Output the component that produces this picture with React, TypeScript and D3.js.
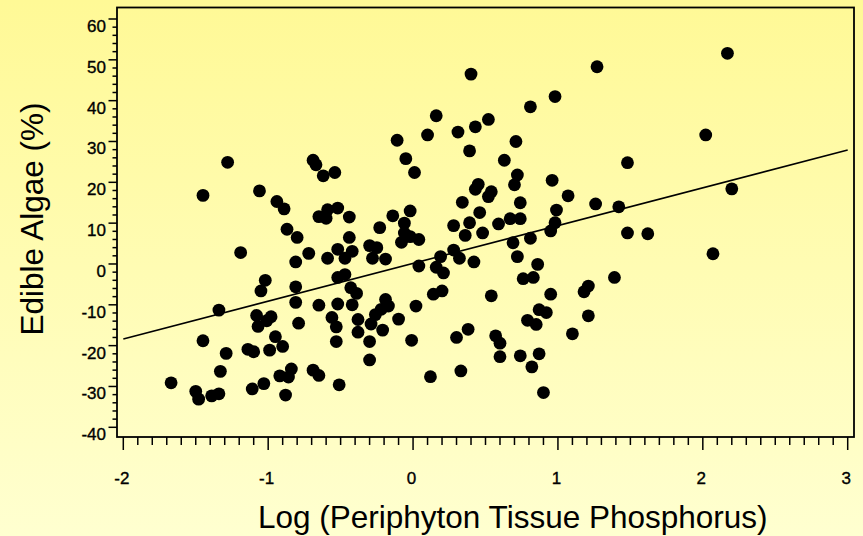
import React from 'react';
import * as d3 from 'd3';

const W = 863;
const H = 536;

// Log (periphyton tissue phosphorus) values
const logPhosphorus = [
  -1.67, -1.50, -1.48, -1.39, -1.34, -1.33, -1.29, -1.45, -1.34, -1.19,
  -1.45, -1.28, -1.06, -0.94, -0.89, -0.87, -0.80, -0.81, -1.02, -1.05,
  -0.81, -0.81, -1.08, -1.07, -0.98, -1.01, -0.79, -0.95, -0.90, -1.14,
  -1.10, -0.99, -0.84, -0.86, -0.92, -1.11, -1.03, -0.88, -0.69, -0.67,
  -0.62, -0.54, -0.65, -0.60, -0.59, -0.52, -0.44, -0.44, -0.23, -0.14,
  -0.72, -0.59, -0.52, -0.47, -0.42, -0.30, -0.25, -0.28, -0.19, -0.52,
  -0.47, -0.43, -0.39, -0.65, -0.52, -0.42, -0.19, -0.17, -0.22, -0.26,
  -0.29, -0.56, -0.53, -0.38, -0.38, -0.30, -0.21, -0.53, -0.30, -0.69,
  -0.65, -0.51, -0.10, -0.11, -0.05, 0.01, -0.08, -0.06, -0.06, -0.02,
  -0.02, 0.04, 0.10, 0.16, 0.40, 0.31, 0.43, 0.52, 0.39, 0.63,
  0.71, 0.81, 0.98, 0.45, 0.43, 0.54, 0.52, 0.72, 0.70, 0.96,
  1.07, 0.34, 0.46, 0.74, 0.99, 0.39, 0.28, 0.36, 0.48, 0.59,
  0.67, 0.74, 0.98, 0.95, 0.81, 0.69, 0.28, 0.32, 0.19, 0.16,
  0.21, 0.42, 0.04, 0.72, 0.86, 0.76, 0.83, 0.14, 0.20, 0.54,
  0.95, 0.02, -0.01, 0.30, 0.38, 0.57, 0.60, 0.60, 0.74, 0.87,
  0.82, 0.87, 0.92, 0.79, 0.85, 0.12, 0.33, 0.90, 1.10, 1.27,
  2.17, 2.02, 1.48, 2.20, 1.26, 1.42, 1.48, 1.62, 2.07, 1.39,
  1.21, 1.18, 1.21,
];

// Edible algae (%) values
const edibleAlgae = [
  -29.1, -31.2, -33.1, -32.3, -31.8, -26.3, -21.9, -18.8, -11.3, 2.8,
  16.8, 24.9, 17.9, 15.3, 13.5, 8.5, 6.5, 0.5, -4.0, -6.6,
  -5.6, -9.4, -12.6, -15.3, -12.9, -13.9, -14.5, -17.8, -20.2, -20.9,
  -21.5, -21.1, -25.7, -27.7, -27.4, -30.6, -29.3, -32.1, 25.4, 24.3,
  21.6, 22.4, 11.6, 11.2, 13.3, 13.7, 11.5, 6.5, 8.9, 11.8,
  2.6, 1.4, 3.6, 1.4, 3.1, 4.5, 4.0, 1.4, 1.2, -3.3,
  -2.6, -5.8, -7.2, -10.1, -9.8, -10.0, -8.7, -10.3, -11.1, -12.4,
  -14.7, -13.1, -15.4, -13.6, -16.7, -19.0, -16.2, -19.0, -23.5, -26.0,
  -27.3, -29.6, -13.5, 30.3, 25.8, 22.4, 5.3, 7.6, 10.0, 13.0,
  6.7, 6.0, 31.6, 36.3, 46.5, 32.3, 33.6, 35.4, 27.7, 25.4,
  30.0, 38.5, 41.0, 19.5, 18.3, 17.7, 16.5, 21.8, 19.4, 20.5,
  16.7, 15.1, 12.6, 15.0, 13.2, 10.1, 9.4, 7.0, 7.6, 9.8,
  11.1, 11.1, 10.1, 8.1, 6.3, 5.2, 3.4, 1.4, 1.8, -0.8,
  -2.2, 0.5, -0.5, 1.8, -0.1, -3.6, -3.3, -7.4, -6.6, -7.8,
  -7.4, -10.3, -18.7, -18.0, -16.0, -17.6, -19.4, -22.7, -22.5, -22.0,
  -25.2, -11.2, -11.9, -13.8, -14.8, -27.6, -26.2, -31.5, -17.1, 48.3,
  51.6, 31.6, 24.8, 18.4, 14.7, 14.0, 7.6, 7.4, 2.5, -3.3,
  -5.4, -6.8, -12.7,
];

const xTickValues = [-2, -1, 0, 1, 2, 3];
const yTickValues = [60, 50, 40, 30, 20, 10, 0, -10, -20, -30, -40];

// regression fit: algae = intercept + slope * logP
const fitIntercept = 0.15;
const fitSlope = 9.25;

const xTitle = 'Log (Periphyton Tissue Phosphorus)';
const yTitle = 'Edible Algae (%)';

export default function App() {
  const frame = { left: 117, top: 7.5, right: 854, bottom: 437 };
  const x = d3.scaleLinear().domain([-2, 3]).range([123.3, 847.7]);
  const y = d3.scaleLinear().domain([-40, 60]).range([427.3, 19]);

  const xMinor = d3.range(-20, 31, 1).map((v) => v / 10);
  const yMinor = d3.range(-40, 61, 2);

  const points = logPhosphorus.map((v, i) => [v, edibleAlgae[i]] as [number, number]);

  const fitLine = d3
    .line<number>()
    .x((d) => x(d))
    .y((d) => y(fitIntercept + fitSlope * d));

  const font = '"Liberation Sans", Arial, Helvetica, sans-serif';

  return (
    <svg
      width={W}
      height={H}
      viewBox={`0 0 ${W} ${H}`}
      style={{ position: 'absolute', left: 0, top: 0, display: 'block' }}
    >
      <defs>
        <linearGradient id="bg" x1="0" y1="0" x2="0" y2="1">
          <stop offset="0" stopColor="#FFF996" />
          <stop offset="1" stopColor="#FFFFD0" />
        </linearGradient>
      </defs>
      <rect x={0} y={0} width={W} height={H} fill="url(#bg)" />

      {/* points */}
      <g fill="#000">
        {points.map(([px, py], i) => (
          <circle key={i} cx={x(px)} cy={y(py)} r={6.4} />
        ))}
      </g>

      {/* regression line */}
      <path d={fitLine([-2, 3]) || ''} fill="none" stroke="#000" strokeWidth={1.6} />

      {/* frame */}
      <rect
        x={frame.left}
        y={frame.top}
        width={frame.right - frame.left}
        height={frame.bottom - frame.top}
        fill="none"
        stroke="#000"
        strokeWidth={1.8}
      />

      {/* y ticks */}
      <g stroke="#000" strokeWidth={1.5}>
        {yMinor.map((v) => {
          const major = v % 10 === 0;
          return (
            <line
              key={v}
              x1={frame.left}
              x2={frame.left - (major ? 8.5 : 4.5)}
              y1={y(v)}
              y2={y(v)}
            />
          );
        })}
      </g>
      <g fontFamily={font} fontSize={17} fill="#000" stroke="#000" strokeWidth={0.35} textAnchor="end">
        {yTickValues.map((v) => (
          <text key={v} x={106} y={y(v) + 13}>
            {v}
          </text>
        ))}
      </g>

      {/* x ticks */}
      <g stroke="#000" strokeWidth={1.5}>
        {xMinor.map((v) => {
          const major = Math.abs(v - Math.round(v)) < 1e-6;
          return (
            <line
              key={v}
              x1={x(v)}
              x2={x(v)}
              y1={frame.bottom}
              y2={frame.bottom + (major ? 13 : 8)}
            />
          );
        })}
      </g>
      <g fontFamily={font} fontSize={17} fill="#000" stroke="#000" strokeWidth={0.35} textAnchor="middle">
        {xTickValues.map((v) => (
          <text key={v} x={x(v) - 1.5} y={483.5}>
            {v}
          </text>
        ))}
      </g>

      {/* axis titles */}
      <text x={258} y={528} fontFamily={font} fontSize={31.5} fill="#000">
        {xTitle}
      </text>
      <text
        transform={`translate(43, 219) rotate(-90)`}
        textAnchor="middle"
        fontFamily={font}
        fontSize={31.5}
        fill="#000"
      >
        {yTitle}
      </text>
    </svg>
  );
}
